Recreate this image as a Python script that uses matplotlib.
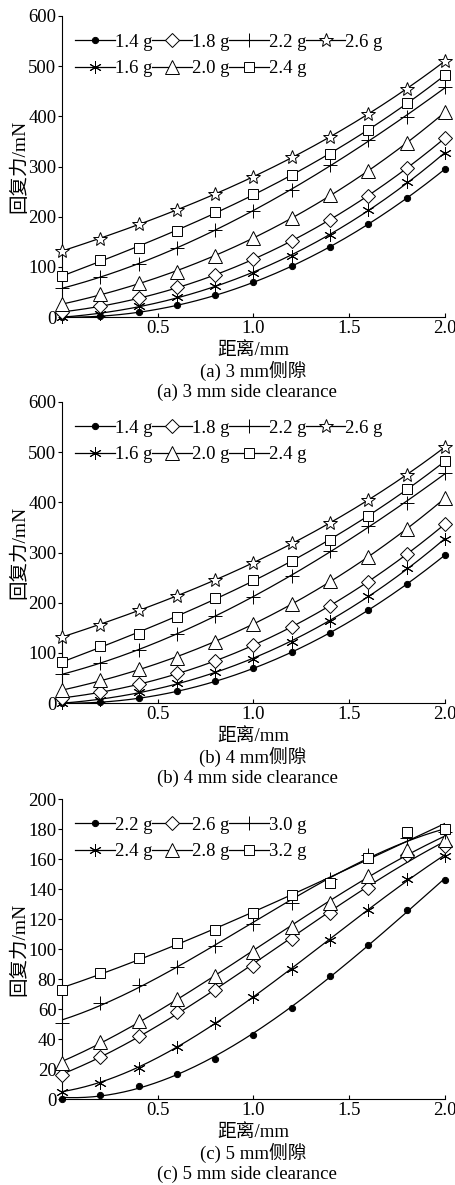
import numpy as np
import matplotlib
matplotlib.use("Agg")
import matplotlib.pyplot as plt

plt.rcParams['font.family'] = ['Liberation Serif', 'Noto Sans CJK SC']

x = [0.0, 0.2, 0.4, 0.6, 0.8, 1.0, 1.2, 1.4, 1.6, 1.8, 2.0]

labels_ab = ['1.4 g', '1.6 g', '1.8 g', '2.0 g', '2.2 g', '2.4 g', '2.6 g']
a_14 = [0, 1, 10, 23, 43, 69, 102, 140, 185, 237, 295]
a_16 = [0, 6, 21, 40, 62, 88, 122, 164, 214, 269, 326]
a_18 = [10, 21, 38, 59, 83, 115, 152, 194, 242, 298, 356]
a_20 = [25, 45, 68, 90, 122, 158, 198, 243, 291, 346, 409]
a_22 = [57, 80, 106, 138, 174, 212, 253, 303, 353, 399, 458]
a_24 = [81, 114, 138, 172, 209, 245, 283, 325, 373, 426, 482]
a_26 = [132, 156, 185, 213, 246, 279, 319, 359, 405, 454, 511]
series_a = [a_14, a_16, a_18, a_20, a_22, a_24, a_26]
series_b = [list(s) for s in series_a]

labels_c = ['2.2 g', '2.4 g', '2.6 g', '2.8 g', '3.0 g', '3.2 g']
c_22 = [0, 3, 8.4, 17, 27, 43, 61, 82, 103, 126, 146]
c_24 = [5, 11, 21, 35, 51, 68, 87, 106, 126, 147, 162]
c_26 = [16, 28, 42, 58, 73, 89, 107, 124, 141, 163, 169]
c_28 = [24, 38, 52, 67, 82, 98, 115, 131, 149, 166, 173]
c_30 = [51, 64, 76, 88, 102, 117, 131, 147, 163, 174, 178]
c_32 = [73, 84, 94, 104, 113, 124, 136, 144, 161, 178, 180]
series_c = [c_22, c_24, c_26, c_28, c_30, c_32]

titles_cn = ['(a) 3 mm侧隙', '(b) 4 mm侧隙', '(c) 5 mm侧隙']
titles_en = ['(a) 3 mm side clearance', '(b) 4 mm side clearance', '(c) 5 mm side clearance']

ast = (6, 2, 0)
style_ab = [
    dict(marker='o', ms=4.5, mfc='black'),
    dict(marker=ast, ms=9, mfc='none'),
    dict(marker='D', ms=7.5, mfc='white'),
    dict(marker='^', ms=10, mfc='white'),
    dict(marker='+', ms=10, mfc='none'),
    dict(marker='s', ms=7.5, mfc='white'),
    dict(marker='*', ms=10, mfc='white'),
]
style_c = style_ab[:6]

W, H = 456, 1185
fig = plt.figure(figsize=(W / 100, H / 100), dpi=100)
FS = 13.5

def px_axes(left, top, right, bottom):
    return fig.add_axes([left / W, 1 - bottom / H, (right - left) / W, (bottom - top) / H])

def fy(py):
    return 1 - py / H

def draw(ax, bottom_px, series, labels, styles, ymax, ystep, ncol, title_cn, title_en):
    xs = np.array(x)
    xf = np.linspace(0, 2.0, 200)
    for s, lab, st in zip(series, labels, styles):
        coef = np.polyfit(xs, np.array(s, dtype=float), 3)
        ax.plot(xf, np.polyval(coef, xf), color='black', lw=0.9, zorder=2)
        ax.plot(xs, s, ls='none', color='black', mec='black', mew=0.7,
                zorder=3, clip_on=False, **st)
        ax.plot([], [], color='black', lw=0.9, mec='black', mew=0.7, label=lab, **st)
    ax.set_xlim(0, 2.0)
    ax.set_ylim(0, ymax)
    ax.set_xticks([0.5, 1.0, 1.5, 2.0])
    ax.set_xticklabels(['0.5', '1.0', '1.5', '2.0'])
    ax.set_yticks(np.arange(0, ymax + 1, ystep))
    ax.spines['top'].set_visible(False)
    ax.spines['right'].set_visible(False)
    ax.tick_params(axis='y', direction='out', length=3, width=0.8, labelsize=FS, pad=1)
    ax.tick_params(axis='x', direction='in', length=3, width=0.8, labelsize=FS, pad=2)
    ax.set_ylabel('回复力/mN', fontsize=14, labelpad=0)
    fig.text(253 / W, fy(bottom_px + 33), '距离/mm', ha='center', va='center', fontsize=FS)
    fig.text(253 / W, fy(bottom_px + 54), title_cn, ha='center', va='center', fontsize=FS)
    fig.text(247 / W, fy(bottom_px + 75), title_en, ha='center', va='center', fontsize=FS)
    ax.legend(loc='upper left', bbox_to_anchor=(0.035, 0.942), ncol=ncol, frameon=False,
              handlelength=2.1, handletextpad=0.0, columnspacing=0.0, labelspacing=0.52,
              fontsize=FS, borderaxespad=0.0, borderpad=0.0)

axa = px_axes(62, 16, 445, 317)
draw(axa, 317, series_a, labels_ab, style_ab, 600, 100, 4, titles_cn[0], titles_en[0])
axb = px_axes(62, 402, 445, 703)
draw(axb, 703, series_b, labels_ab, style_ab, 600, 100, 4, titles_cn[1], titles_en[1])
axc = px_axes(62, 799, 445, 1099)
draw(axc, 1099, series_c, labels_c, style_c, 200, 20, 3, titles_cn[2], titles_en[2])

fig.savefig('out.png', dpi=100)
